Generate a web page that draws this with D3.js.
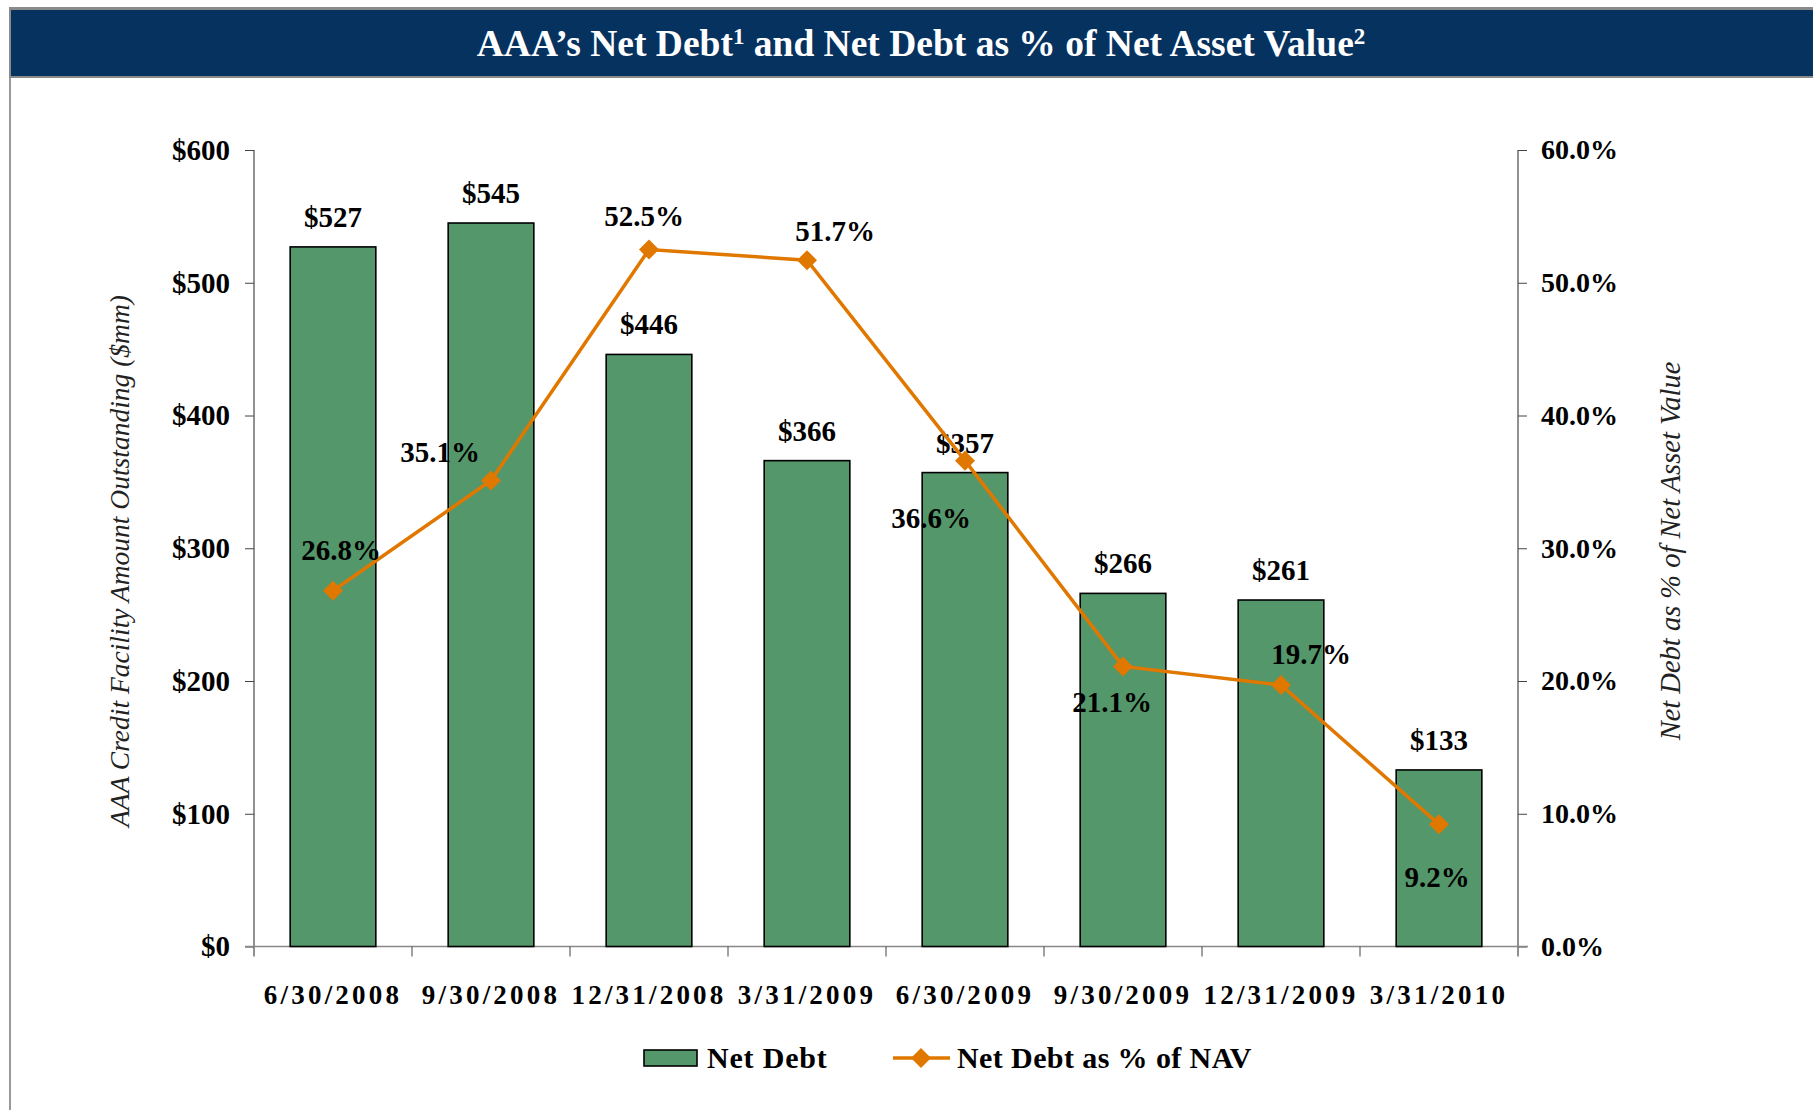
<!DOCTYPE html>
<html><head><meta charset="utf-8">
<script src="https://cdn.jsdelivr.net/npm/d3@7"></script>
<style>
html,body{margin:0;padding:0;background:#fff;}
svg{display:block;}
text{font-family:"Liberation Serif","Times New Roman",serif;}
</style></head>
<body>
<script>
const categories = ["6/30/2008","9/30/2008","12/31/2008","3/31/2009","6/30/2009","9/30/2009","12/31/2009","3/31/2010"];
const netDebt = [527,545,446,366,357,266,261,133];
const netDebtPct = [26.8,35.1,52.5,51.7,36.6,21.1,19.7,9.2];
const leftTicks = [0,100,200,300,400,500,600];
const rightTicks = [0,10,20,30,40,50,60];
const pctLabelOffsets = [[8,-41],[-51,-29],[-5,-34],[28,-29],[-34,57],[-11,35],[30,-31],[-2,52]];

const W = 1813, H = 1110;
const svg = d3.select("body").append("svg").attr("width",W).attr("height",H);

const GREEN = "#54976A", ORANGE = "#E07800", NAVY = "#06325F";
const lx = 254, rx = 1518, plotTop = 150, plotBottom = 946.5;

// frame
svg.append("rect").attr("x",9).attr("y",7).attr("width",W-9).attr("height",71).attr("fill","#8a8a8a");
svg.append("rect").attr("x",11).attr("y",10).attr("width",W-11).attr("height",66).attr("fill",NAVY);
svg.append("rect").attr("x",9).attr("y",78).attr("width",2).attr("height",H-78).attr("fill","#9a9a9a");

const title = svg.append("text").attr("x",921).attr("y",56).attr("text-anchor","middle")
  .attr("fill","#fff").attr("font-size",37.5).attr("font-weight","bold");
title.append("tspan").text("AAA\u2019s Net Debt");
title.append("tspan").text("1").attr("font-size",23).attr("dy",-12);
title.append("tspan").text(" and Net Debt as % of Net Asset Value").attr("dy",12);
title.append("tspan").text("2").attr("font-size",23).attr("dy",-12);

const x = d3.scaleBand().domain(categories).range([lx,rx]).paddingInner(0.458).paddingOuter(0.229);
const yL = d3.scaleLinear().domain([0,600]).range([plotBottom,plotTop]);
const yR = d3.scaleLinear().domain([0,60]).range([plotBottom,plotTop]);

const valFont = 29;

// left axis
const gL = svg.append("g").attr("transform",`translate(${lx},0)`)
  .call(d3.axisLeft(yL).tickValues(leftTicks).tickFormat(d=>"$"+d).tickSize(9).tickPadding(15));
gL.select(".domain").attr("stroke","#222").attr("d",`M0,${plotTop}H0V${plotBottom+10}`);
gL.selectAll(".tick line").attr("stroke","#444");
gL.selectAll(".tick text").attr("font-size",valFont).attr("font-weight","bold").attr("fill","#000")
  .attr("font-family","Liberation Serif");

// right axis
const gR = svg.append("g").attr("transform",`translate(${rx},0)`)
  .call(d3.axisRight(yR).tickValues(rightTicks).tickFormat(d=>d.toFixed(1)+"%").tickSize(9).tickPadding(14));
gR.select(".domain").attr("stroke","#222").attr("d",`M0,${plotTop}H0V${plotBottom+10}`);
gR.selectAll(".tick line").attr("stroke","#444");
gR.selectAll(".tick text").attr("font-size",28).attr("font-weight","bold").attr("fill","#000")
  .attr("font-family","Liberation Serif");

// x axis
const gX = svg.append("g").attr("transform",`translate(0,${plotBottom})`)
  .call(d3.axisBottom(x).tickSize(0).tickPadding(38));
gX.select(".domain").remove();
gX.selectAll(".tick text").attr("font-size",27).attr("font-weight","bold").attr("fill","#000")
  .attr("font-family","Liberation Serif").style("letter-spacing","3.2px");
svg.append("line").attr("x1",lx-9).attr("x2",rx+10).attr("y1",plotBottom).attr("y2",plotBottom).attr("stroke","#888").attr("stroke-width",1.5);
svg.selectAll(".xsep").data(categories.slice(1)).enter().append("line")
  .attr("x1",d=>x(d)-x.step()*x.paddingInner()/2).attr("x2",d=>x(d)-x.step()*x.paddingInner()/2)
  .attr("y1",plotBottom).attr("y2",plotBottom+10).attr("stroke","#444");

// bars
svg.selectAll(".bar").data(netDebt).enter().append("rect")
  .attr("x",(d,i)=>x(categories[i])).attr("width",x.bandwidth())
  .attr("y",d=>yL(d)).attr("height",d=>plotBottom-yL(d))
  .attr("fill",GREEN).attr("stroke","#000").attr("stroke-width",1.6);

svg.selectAll(".barlab").data(netDebt).enter().append("text")
  .attr("x",(d,i)=>x(categories[i])+x.bandwidth()/2).attr("y",d=>yL(d)-20)
  .attr("text-anchor","middle").attr("font-size",valFont).attr("font-weight","bold")
  .text(d=>"$"+d);

// line
const cx = i => x(categories[i])+x.bandwidth()/2;
svg.append("path").datum(netDebtPct)
  .attr("d",d3.line().x((d,i)=>cx(i)).y(d=>yR(d)))
  .attr("fill","none").attr("stroke",ORANGE).attr("stroke-width",3.5);
const diamond = d3.symbol(d3.symbolSquare,200);
svg.selectAll(".pt").data(netDebtPct).enter().append("path")
  .attr("d",diamond).attr("transform",(d,i)=>`translate(${cx(i)},${yR(d)}) rotate(45)`)
  .attr("fill",ORANGE);

svg.selectAll(".pctlab").data(netDebtPct).enter().append("text")
  .attr("x",(d,i)=>cx(i)+pctLabelOffsets[i][0]).attr("y",(d,i)=>yR(d)+pctLabelOffsets[i][1])
  .attr("dy","0.35em").attr("text-anchor","middle").attr("font-size",valFont).attr("font-weight","bold")
  .text(d=>d.toFixed(1)+"%");

// axis titles
svg.append("text").attr("transform","translate(129,561) rotate(-90)").attr("text-anchor","middle")
  .attr("font-size",27.5).attr("font-style","italic").attr("fill","#222")
  .text("AAA Credit Facility Amount Outstanding ($mm)");
svg.append("text").attr("transform","translate(1680,551) rotate(-90)").attr("text-anchor","middle")
  .attr("font-size",28.5).attr("font-style","italic").attr("fill","#222")
  .text("Net Debt as % of Net Asset Value");

// legend
const leg = svg.append("g");
leg.append("rect").attr("x",644).attr("y",1050).attr("width",53).attr("height",16)
  .attr("fill",GREEN).attr("stroke","#000").attr("stroke-width",1.6);
leg.append("text").attr("x",707).attr("y",1068).attr("font-size",30).attr("font-weight","bold")
  .style("letter-spacing","0.8px").text("Net Debt");
leg.append("line").attr("x1",893).attr("x2",950).attr("y1",1058).attr("y2",1058).attr("stroke",ORANGE).attr("stroke-width",3.5);
leg.append("path").attr("d",diamond).attr("transform","translate(921,1058) rotate(45)").attr("fill",ORANGE);
leg.append("text").attr("x",957).attr("y",1068).attr("font-size",30).attr("font-weight","bold")
  .style("letter-spacing","0.4px").text("Net Debt as % of NAV");
</script>
</body></html>
